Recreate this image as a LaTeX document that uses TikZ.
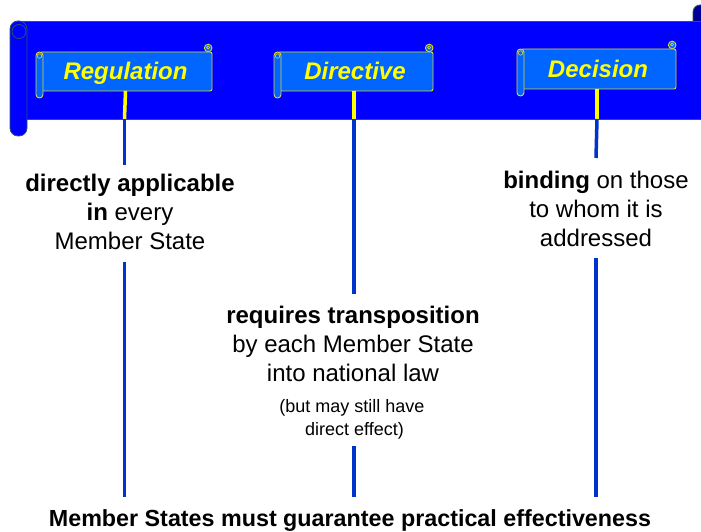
\documentclass[tikz,border=0pt]{standalone}
\usepackage{fontspec}
\setmainfont{Liberation Sans}
\definecolor{bannerblue}{RGB}{0,0,255}
\definecolor{scrollblue}{RGB}{0,102,255}
\definecolor{lineblue}{RGB}{0,51,204}
\definecolor{edgeteal}{RGB}{40,85,100}
\definecolor{rolldark}{RGB}{0,0,150}
\definecolor{scrolledge}{RGB}{225,215,50}
\definecolor{stemyellow}{RGB}{255,255,0}
\tikzset{
  scrollframe/.style={fill=scrollblue,draw=scrolledge,line width=0.9pt},
  titletext/.style={font=\fontsize{24}{28}\selectfont\bfseries\itshape,text=stemyellow,inner sep=0pt,anchor=base},
  stemline/.style={draw=stemyellow,line width=3.5pt},
  connline/.style={draw=lineblue,line width=3.5pt},
  bodytext/.style={font=\fontsize{24}{29}\selectfont,align=center,inner sep=0pt},
  smalltext/.style={font=\fontsize{18}{23}\selectfont,align=center,inner sep=0pt},
  bottomtext/.style={font=\fontsize{23.3}{28}\selectfont\bfseries,inner sep=0pt,anchor=base}
}
\newcommand\titlescroll[7]{% name x1 y1 x2 y2 text baseline
  \draw[scrollframe] (#4-3.8,#3-4) circle[radius=3.8pt];
  \draw[scrolledge,line width=0.6pt] (#4-3.8,#3-4.5) circle[radius=1.6pt];
  \draw[scrollframe,rounded corners=2pt] (#2+4,#3) rectangle (#4,#5);
  \draw[scrollframe,rounded corners=3.5pt] (#2,#3) rectangle (#2+7,#5+7);
  \draw[scrolledge,line width=0.6pt] (#2+3.5,#3+4) circle[radius=2.2pt];
  \node[titletext] (#1) at ({(#2+#4)/2+1.5},#7) {#6};
}
\begin{document}
\begin{tikzpicture}[x=1pt,y=-1pt]
\useasboundingbox (0,0) rectangle (701,532);
\clip (0,0) rectangle (701,532);
% banner
\draw[fill=rolldark,draw=edgeteal,line width=0.8pt,rounded corners=7pt] (693,5) rectangle (716,34);
\draw[fill=bannerblue,draw=edgeteal,line width=0.8pt] (18,21) rectangle (706,119);
\draw[fill=bannerblue,draw=edgeteal,line width=0.8pt,rounded corners=8pt] (10,21) rectangle (27,136);
\draw[edgeteal,line width=0.8pt] (19,31.5) circle[radius=7pt];
% title scrolls
\titlescroll{reg}{36}{52}{212}{91}{Regulation}{80}
\titlescroll{dir}{274}{52}{433}{91}{Directive}{80}
\titlescroll{dec}{517}{49}{676}{89}{Decision}{78}
% coordinates
\coordinate (rb) at (124.5,119);
\coordinate (db) at (354,119);
\coordinate (cb) at (597,119);
\coordinate (r1) at (124.5,165);
\coordinate (r2) at (124.5,262);
\coordinate (r3) at (124.5,497);
\coordinate (d1) at (354,294);
\coordinate (d2) at (354,446);
\coordinate (d3) at (354,497);
\coordinate (c1) at (596,158);
\coordinate (c2) at (596,258);
\coordinate (c3) at (596,497);
% text nodes
\node[bodytext] (regtxt) at (130,212.3) {\textbf{directly applicable}\\\textbf{in} every\\Member State};
\node[bodytext] (dectxt) at (596,208.6) {\textbf{binding} on those\\to whom it is\\addressed};
\node[bodytext] (dirtxt) at (353,344) {\textbf{requires transposition}\\by each Member State\\into national law};
\node[smalltext] (dirnote) at (352,419) {(but may still have\\\ direct effect)};
\node[bottomtext] (must) at (350,526) {Member States must guarantee practical effectiveness};
% stems
\draw[stemline] (reg.south |- 0,91) -- (rb);
\draw[stemline] (354,91) -- (db);
\draw[stemline] (597,89) -- (cb);
% connectors
\draw[connline] (rb) -- (r1);
\draw[connline] (r2) -- (r3);
\draw[connline] (db) -- (d1);
\draw[connline] (d2) -- (d3);
\draw[connline] (cb) -- (c1);
\draw[connline] (c2) -- (c3);
\end{tikzpicture}
\end{document}
